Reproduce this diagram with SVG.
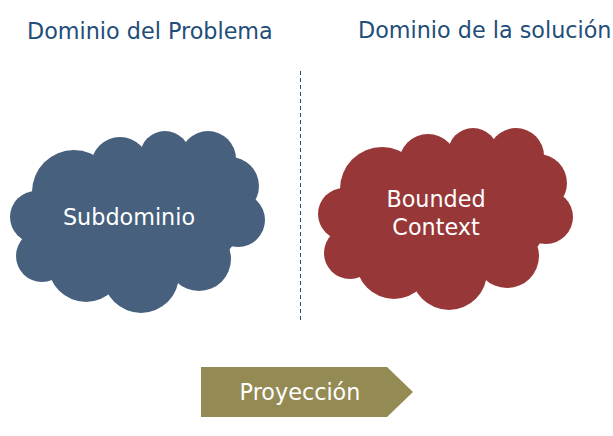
<svg xmlns="http://www.w3.org/2000/svg" width="613" height="436" viewBox="0 0 613 436">
<style>
.t{font-family:"DejaVu Sans",sans-serif;font-size:22.3px;fill:#1f4e79}
.w{font-family:"DejaVu Sans",sans-serif;font-size:22.3px;fill:#ffffff;text-anchor:middle}
</style>
<defs>
<g id="cloud">
<circle cx="36" cy="217" r="26"/>
<circle cx="74" cy="192" r="42"/>
<circle cx="120" cy="166" r="29"/>
<circle cx="165" cy="156" r="25"/>
<circle cx="208" cy="159" r="28"/>
<circle cx="230" cy="186" r="29"/>
<circle cx="238" cy="220" r="27"/>
<circle cx="42" cy="256" r="26"/>
<circle cx="86" cy="264" r="38"/>
<circle cx="141" cy="275" r="38"/>
<circle cx="199" cy="259" r="32"/>
<ellipse cx="140" cy="222" rx="100" ry="62"/>
</g>
</defs>
<rect width="613" height="436" fill="#ffffff"/>
<g id="titles">
<text class="t" x="27" y="39">Dominio del Problema</text>
<text class="t" x="358" y="38">Dominio de la solución</text>
</g>
<g id="connectors">
<line x1="300.5" y1="71" x2="300.5" y2="320" stroke="#1f4e79" stroke-width="1" stroke-dasharray="4,3"/>
</g>
<g id="subdominio">
<use href="#cloud" fill="#46607e"/>
<text class="w" x="129" y="225">Subdominio</text>
</g>
<g id="bounded-context">
<use href="#cloud" fill="#983737" transform="translate(308,-3)"/>
<text class="w" x="436" y="207">Bounded</text>
<text class="w" x="436" y="235">Context</text>
</g>
<g id="proyeccion">
<polygon points="201,367 387,367 413,392 387,417 201,417" fill="#948a54"/>
<text class="w" x="300" y="400">Proyección</text>
</g>
</svg>
